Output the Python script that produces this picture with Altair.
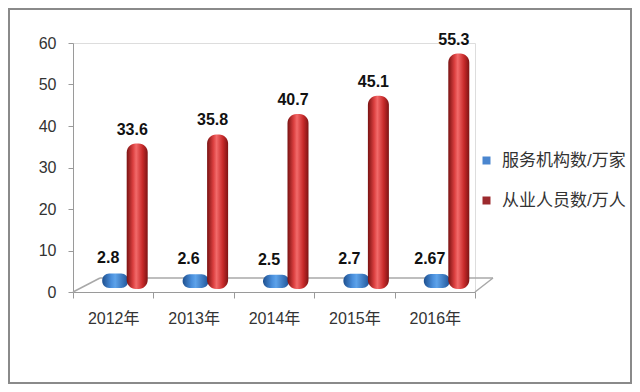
import altair as alt
import pandas as pd

years = ["2012年", "2013年", "2014年", "2015年", "2016年"]
orgs = [2.8, 2.6, 2.5, 2.7, 2.67]
org_labels = ["2.8", "2.6", "2.5", "2.7", "2.67"]
staff = [33.6, 35.8, 40.7, 45.1, 55.3]
staff_labels = ["33.6", "35.8", "40.7", "45.1", "55.3"]
series = ["服务机构数/万家", "从业人员数/万人"]
y_ticks = [0, 10, 20, 30, 40, 50, 60]

df_org = pd.DataFrame({"year": years, "value": orgs, "label": org_labels, "series": series[0]})
df_staff = pd.DataFrame({"year": years, "value": staff, "label": staff_labels, "series": series[1]})
df_all = pd.concat([df_org, df_staff], ignore_index=True)

FONT = "Liberation Sans, Noto Sans CJK SC, sans-serif"
W, H = 402, 249

x = alt.X("year:N", sort=years,
          scale=alt.Scale(paddingInner=0, paddingOuter=0),
          axis=alt.Axis(title=None, labelAngle=0, tickBand="extent", tickSize=6,
                        domainColor="#9a9a9a", tickColor="#9a9a9a", labelFontSize=16,
                        labelColor="#333333", labelPadding=12, labelFont=FONT))
y = alt.Y("value:Q", scale=alt.Scale(domain=[0, 60], nice=False),
          axis=alt.Axis(title=None, values=y_ticks, grid=False, tickSize=5,
                        domainColor="#9a9a9a", tickColor="#9a9a9a", labelFontSize=16,
                        labelColor="#333333", labelPadding=12, labelFont=FONT))

red_grad = alt.Gradient(gradient="linear", x1=0, x2=1, y1=0, y2=0, stops=[
    alt.GradientStop(offset=0, color="#7a1212"),
    alt.GradientStop(offset=0.3, color="#dc4040"),
    alt.GradientStop(offset=0.45, color="#f26a6a"),
    alt.GradientStop(offset=0.75, color="#c82a2a"),
    alt.GradientStop(offset=1, color="#7e1414")])
blue_grad = alt.Gradient(gradient="linear", x1=0, x2=1, y1=0, y2=0, stops=[
    alt.GradientStop(offset=0, color="#1d4f8e"),
    alt.GradientStop(offset=0.35, color="#4a8fdc"),
    alt.GradientStop(offset=0.5, color="#5ea3ea"),
    alt.GradientStop(offset=1, color="#1f5599")])

one = pd.DataFrame({"v": [0]})

frame = alt.Chart(one).mark_rect(fill=None, stroke="#8a8a8a", strokeWidth=2).encode(
    x=alt.value(-64), x2=alt.value(W + 156), y=alt.value(-34), y2=alt.value(H + 91))

floor_back = alt.Chart(one).mark_rule(color="#a8a8a8", strokeWidth=1.5, yOffset=-14).encode(
    x=alt.value(27), x2=alt.value(W + 18), y=alt.datum(0))
floor_left = alt.Chart(one).mark_rule(color="#a8a8a8", strokeWidth=1.5, y2Offset=-14).encode(
    x=alt.value(0), x2=alt.value(27), y=alt.datum(0), y2=alt.datum(0))
floor_right = alt.Chart(one).mark_rule(color="#a8a8a8", strokeWidth=1.5, y2Offset=-14).encode(
    x=alt.value(W), x2=alt.value(W + 18), y=alt.datum(0), y2=alt.datum(0))

base_org = alt.Chart(df_org)
base_staff = alt.Chart(df_staff)

blue_bars = base_org.mark_bar(fill=blue_grad, width=26, cornerRadius=7, xOffset=2,
                              yOffset=-7, y2Offset=-4).encode(x=x, y=y, y2=alt.datum(0))
red_bars = base_staff.mark_bar(fill=red_grad, width=21, cornerRadius=9, xOffset=24,
                               yOffset=-9, y2Offset=-3).encode(x=x, y=y, y2=alt.datum(0))

blue_text = base_org.mark_text(font=FONT, fontSize=16, fontWeight="bold", color="#111111",
                               dy=-22, xOffset=-5).encode(x=x, y=y, text="label:N")
red_text = base_staff.mark_text(font=FONT, fontSize=16, fontWeight="bold", color="#111111",
                                dy=-23, xOffset=19).encode(x=x, y=y, text="label:N")

legend_layer = alt.Chart(df_all).mark_point(filled=True, shape="square", opacity=0).encode(
    x=x, y=y,
    color=alt.Color("series:N", sort=series,
                    scale=alt.Scale(domain=series, range=["#4a86cf", "#9c2a2e"]),
                    legend=alt.Legend(title=None, orient="none", legendX=405, legendY=109,
                                      symbolType="square", symbolSize=64, symbolOpacity=1,
                                      symbolStrokeWidth=0, labelFontSize=17, labelFont=FONT,
                                      labelColor="#333333", labelOffset=7, rowPadding=22,
                                      padding=0)))

chart = alt.layer(frame, floor_back, floor_left, floor_right, blue_bars, red_bars,
                  blue_text, red_text, legend_layer).properties(
    width=W, height=H,
    padding={"left": 65, "top": 35, "right": 157, "bottom": 92},
    autosize=alt.AutoSizeParams(type="none"),
).configure_view(stroke=None).configure(background="white")

chart.save("out.html", embed_options={"renderer": "svg", "actions": False})
